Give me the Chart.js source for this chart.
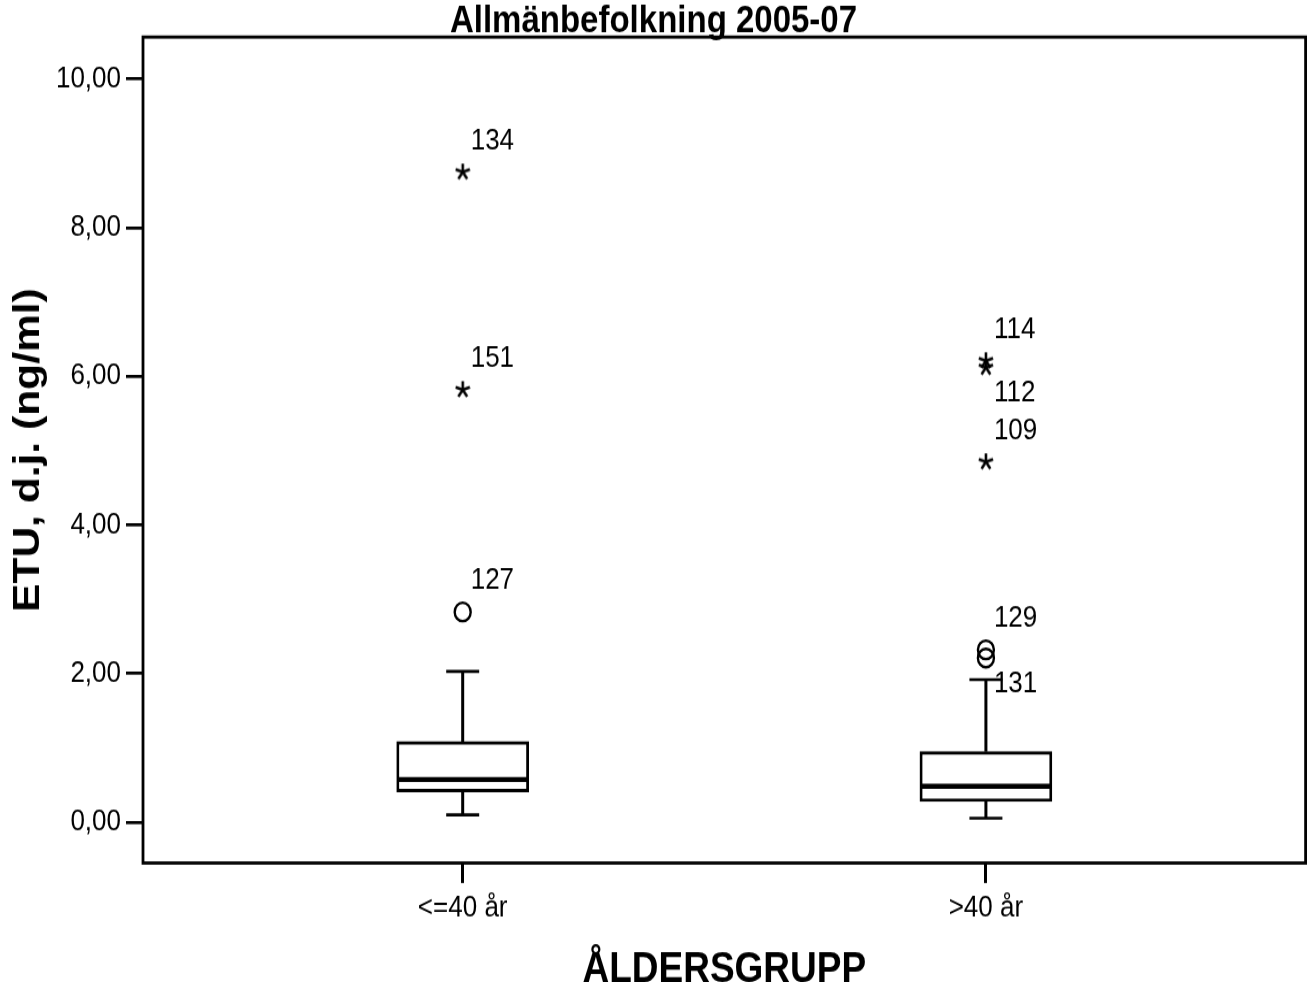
<!DOCTYPE html>
<html><head><meta charset="utf-8">
<script src="https://cdn.jsdelivr.net/npm/chart.js@4.4.1/dist/chart.umd.min.js"></script>
<style>
html,body{margin:0;padding:0;background:#fff;overflow:hidden;width:1316px;height:982px;}
#wrap{width:1316px;height:854px;position:absolute;left:0;top:0;transform:scaleY(1.1499);transform-origin:0 0;}
</style>
</head><body><div id="wrap"><canvas id="c"></canvas></div>
<script>
// ---- data ----
const categories = ['<=40 år', '>40 år'];
const whiskerLow  = [0.10, 0.055];
const quart1      = [0.41, 0.28];
const medians     = [0.575, 0.485];
const quart3      = [1.085, 0.95];
const whiskerHigh = [2.03, 1.92];
// outliers (circles)
const outlierGroup = [0, 1, 1];
const outlierValue = [2.83, 2.32, 2.21];
const outlierId    = ['127', '129', '131'];
// extremes (stars)
const extremeGroup = [0, 0, 1, 1, 1];
const extremeValue = [8.75, 5.82, 6.21, 6.12, 4.85];
const extremeId    = ['134', '151', '114', '112', '109'];
const yTickValues  = [0, 2, 4, 6, 8, 10];

// ---- styles ----
const outlierLabelSide = ['above', 'above', 'below'];
const extremeLabelSide = ['above', 'above', 'above', 'below', 'above'];
const FONT = "'Liberation Sans', Arial, sans-serif";
const BOX_PX = 132, CAP_PX = 33;

function makeStar(size, lw) {
  const c = document.createElement('canvas');
  c.width = size; c.height = size;
  const g = c.getContext('2d');
  g.strokeStyle = '#000'; g.lineWidth = lw; g.lineCap = 'butt';
  const r = size / 2 - 0.5;
  for (let k = 0; k < 5; k++) {
    const a = -Math.PI / 2 + k * 2 * Math.PI / 5;
    g.beginPath(); g.moveTo(size / 2, size / 2);
    g.lineTo(size / 2 + r * Math.cos(a), size / 2 + r * Math.sin(a)); g.stroke();
  }
  return c;
}
const starImg = makeStar(16, 2.6);

const boxPlugin = {
  id: 'boxExtras',
  afterDatasetsDraw(chart) {
    const {ctx, scales: {x, y}, chartArea: a} = chart;
    ctx.save();
    ctx.strokeStyle = '#000';
    categories.forEach((c, i) => {
      const px = x.getPixelForValue(i);
      ctx.lineWidth = 3;
      ctx.beginPath();
      ctx.moveTo(px, y.getPixelForValue(whiskerLow[i])); ctx.lineTo(px, y.getPixelForValue(quart1[i]));
      ctx.moveTo(px, y.getPixelForValue(quart3[i])); ctx.lineTo(px, y.getPixelForValue(whiskerHigh[i]));
      ctx.stroke();
      ctx.lineWidth = 2.7;
      ctx.beginPath();
      ctx.moveTo(px - CAP_PX / 2, y.getPixelForValue(whiskerLow[i])); ctx.lineTo(px + CAP_PX / 2, y.getPixelForValue(whiskerLow[i]));
      ctx.moveTo(px - CAP_PX / 2, y.getPixelForValue(whiskerHigh[i])); ctx.lineTo(px + CAP_PX / 2, y.getPixelForValue(whiskerHigh[i]));
      ctx.stroke();
      ctx.lineWidth = 4.4;
      ctx.beginPath();
      ctx.moveTo(px - BOX_PX / 2 + 1, y.getPixelForValue(medians[i])); ctx.lineTo(px + BOX_PX / 2 - 1, y.getPixelForValue(medians[i]));
      ctx.stroke();
    });
    // labels
    ctx.fillStyle = '#000';
    ctx.font = '26px ' + FONT;
    ctx.textAlign = 'left'; ctx.textBaseline = 'middle';
    const lab = (g, v, t, side) => {
      const px = x.getPixelForValue(g) + 8;
      const py = y.getPixelForValue(v) + (side === 'above' ? -27 : 22.5);
      ctx.fillText(t, px, py);
    };
    outlierId.forEach((t, k) => lab(outlierGroup[k], outlierValue[k], t, outlierLabelSide[k]));
    extremeId.forEach((t, k) => lab(extremeGroup[k], extremeValue[k], t, extremeLabelSide[k]));
    // frame
    ctx.lineWidth = 2.8;
    ctx.strokeRect(a.left, a.top, a.right - a.left, a.bottom - a.top);
    ctx.restore();
  }
};

new Chart(document.getElementById('c'), {
  type: 'bar',
  data: {
    datasets: [
      {
        type: 'bar',
        data: categories.map((c, i) => ({x: i, y: [quart1[i], quart3[i]]})),
        backgroundColor: '#fff', borderColor: '#000', borderWidth: 2.8,
        borderSkipped: false, barThickness: BOX_PX, grouped: false, order: 2
      },
      {
        type: 'scatter',
        data: outlierValue.map((v, k) => ({x: outlierGroup[k], y: v})),
        pointStyle: 'circle', pointRadius: 8, borderColor: '#000', borderWidth: 2.4,
        backgroundColor: 'rgba(0,0,0,0)', order: 1
      },
      {
        type: 'scatter',
        data: extremeValue.map((v, k) => ({x: extremeGroup[k], y: v})),
        pointStyle: starImg, pointRadius: 8, order: 1
      }
    ]
  },
  options: {
    responsive: true, maintainAspectRatio: false, animation: false,
    layout: {padding: {top: 0, left: 0, right: 9, bottom: 0}},
    plugins: {
      legend: {display: false}, tooltip: {enabled: false},
      title: {
        display: true, text: 'Allmänbefolkning 2005-07', color: '#000',
        font: {family: FONT, size: 33, weight: 'bold', lineHeight: 27 / 33},
        padding: {top: 5.2, bottom: 0}
      }
    },
    scales: {
      x: {
        type: 'linear', min: -0.611, max: 1.611, offset: false,
        afterBuildTicks: s => { s.ticks = categories.map((c, i) => ({value: i})); },
        afterFit: s => { s.height = 103.5; },
        ticks: {callback: (v, i) => categories[i], color: '#000', font: {family: FONT, size: 26}, padding: 6, maxRotation: 0, autoSkip: false},
        grid: {drawOnChartArea: false, drawTicks: true, offset: false, tickLength: 17.4, color: '#000', lineWidth: 3},
        border: {display: false},
        title: {display: true, text: 'ÅLDERSGRUPP', color: '#000', font: {family: FONT, size: 37, weight: 'bold', lineHeight: 0.55}, padding: {top: 0, bottom: 0}}
      },
      y: {
        type: 'linear', min: -0.548, max: 10.565,
        afterBuildTicks: s => { s.ticks = yTickValues.map(v => ({value: v})); },
        afterFit: s => { s.width = 143; },
        ticks: {callback: v => v.toFixed(2).replace('.', ','), color: '#000', font: {family: FONT, size: 26}, padding: 5},
        grid: {drawOnChartArea: false, drawTicks: true, tickLength: 17, color: '#000', lineWidth: 2.7},
        border: {display: false},
        title: {display: true, text: 'ETU, d.j. (ng/ml)', color: '#000', font: {family: FONT, size: 37, weight: 'bold', lineHeight: 1.2}, padding: {top: 7, bottom: 0}}
      }
    }
  },
  plugins: [boxPlugin]
});
</script>
</body></html>
